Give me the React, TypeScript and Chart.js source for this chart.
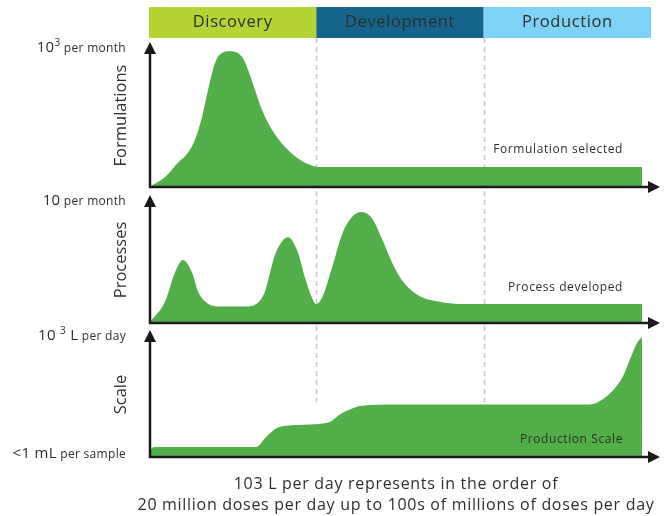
import React, { useEffect, useRef } from "react";
import { Chart, registerables } from "chart.js";

Chart.register(...registerables);

// Timeline in arbitrary units: Discovery 0–10, Development 10–20, Production 20–30
const phases = ["Discovery", "Development", "Production"];
const phaseBounds = [0, 10, 20, 30];

const panelTitles = ["Formulations", "Processes", "Scale"];
const panelNotes = ["Formulation selected", "Process developed", "Production Scale"];
const bottomCaption = [
  "103 L per day represents in the order of",
  "20 million doses per day up to 100s of millions of doses per day",
];

// values in % of each panel's axis height
const formulationsX = [0, 0.96, 1.73, 2.33, 2.75, 3.17, 3.53, 3.82, 4.12, 4.84, 5.56, 5.92, 6.33, 6.75, 7.35, 8.13, 8.9, 9.74, 10.1, 29.46];
const formulationsY = [0, 7, 17, 24, 33, 49, 68, 82, 91, 95, 91, 82, 68, 54, 40, 28, 20, 15, 14, 14];

const processesX = [0, 0.96, 1.55, 2.03, 2.57, 2.93, 3.35, 4.12, 5.74, 6.51, 6.93, 7.53, 8.31, 8.9, 9.32, 9.74, 9.98, 10.34, 10.94, 11.53, 12.13, 12.67, 13.33, 13.92, 14.52, 15.12, 16.08, 17.27, 18.88, 29.46];
const processesY = [0, 17, 40, 50, 40, 25, 17, 13, 13, 16, 25, 54, 68, 56, 36, 20, 15, 20, 44, 70, 84, 88, 83, 67, 48, 34, 22, 17, 15, 15];

const scaleX = [0, 0.3, 6.4, 7.0, 7.6, 8.2, 9.6, 10.8, 11.4, 12.0, 12.7, 14.8, 26.3, 27.3, 28.3, 28.8, 29.2, 29.46];
const scaleY = [4, 8, 8, 16, 23, 25, 26, 28, 34, 38, 41, 42, 42, 48, 64, 80, 92, 96];

// axis label runs: [text, style]
const topLabels: [string, string][][] = [
  [["10", "big"], ["3", "sup"], [" per month", "small"]],
  [["10", "big"], [" per month", "small"]],
  [["10 ", "big"], ["3", "sup"], [" L", "big"], [" per day", "small"]],
];
const bottomLabels: [string, string][][] = [[], [], [["<1 mL", "big"], [" per sample", "small"]]];

const FONT = "'Open Sans', sans-serif";
const GREEN = "#52ae48";
const BAND_COLORS = ["#b5d334", "#15648a", "#7dd3f5"];
const INK = "#2e2e2e";

const runStyle: Record<string, { size: number; dy: number }> = {
  big: { size: 15, dy: 0 },
  sup: { size: 10, dy: -6 },
  small: { size: 12, dy: 0 },
};

function setSpacing(ctx: any, px: number) {
  if ("letterSpacing" in ctx) ctx.letterSpacing = `${px}px`;
}

function drawRunsRight(ctx: CanvasRenderingContext2D, runs: [string, string][], right: number, baseline: number) {
  let total = 0;
  setSpacing(ctx, 0.3);
  const widths = runs.map(([t, s]) => {
    ctx.font = `${runStyle[s].size}px ${FONT}`;
    const w = ctx.measureText(t).width;
    total += w;
    return w;
  });
  let x = right - total;
  ctx.textAlign = "left";
  ctx.textBaseline = "alphabetic";
  runs.forEach(([t, s], i) => {
    ctx.font = `${runStyle[s].size}px ${FONT}`;
    ctx.fillText(t, x, baseline + runStyle[s].dy);
    x += widths[i];
  });
  setSpacing(ctx, 0);
}

const overlay = {
  id: "overlay",
  beforeDatasetsDraw(chart: any) {
    const ctx: CanvasRenderingContext2D = chart.ctx;
    const xs = chart.scales.x;
    const area = chart.chartArea;
    ctx.save();
    // phase band
    const bandTop = area.top - 33;
    const bandBottom = area.top - 2;
    phases.forEach((p, i) => {
      const x0 = xs.getPixelForValue(phaseBounds[i]);
      const x1 = xs.getPixelForValue(phaseBounds[i + 1]);
      ctx.fillStyle = BAND_COLORS[i];
      ctx.fillRect(x0, bandTop, x1 - x0, bandBottom - bandTop);
      ctx.fillStyle = INK;
      ctx.font = `16.5px ${FONT}`;
      setSpacing(ctx, 0.6);
      ctx.textAlign = "center";
      ctx.textBaseline = "middle";
      ctx.fillText(p, (x0 + x1) / 2, (bandTop + bandBottom) / 2);
      setSpacing(ctx, 0);
    });
    // dashed phase dividers
    const yEnd = chart.scales.y3.getPixelForValue(44);
    ctx.strokeStyle = "#c6c6c6";
    ctx.lineWidth = 1.5;
    ctx.setLineDash([5, 4]);
    [phaseBounds[1], phaseBounds[2]].forEach((b) => {
      const x = Math.round(xs.getPixelForValue(b)) + 0.5;
      ctx.beginPath();
      ctx.moveTo(x, bandBottom);
      ctx.lineTo(x, yEnd);
      ctx.stroke();
    });
    ctx.restore();
  },
  afterDatasetsDraw(chart: any) {
    const ctx: CanvasRenderingContext2D = chart.ctx;
    const xs = chart.scales.x;
    const yScales = [chart.scales.y1, chart.scales.y2, chart.scales.y3];
    const plateaus = [formulationsY[formulationsY.length - 1], processesY[processesY.length - 1], 0];
    ctx.save();
    yScales.forEach((s: any, i: number) => {
      const base = s.getPixelForValue(0);
      const tip = s.getPixelForValue(100) - 2;
      const x0 = xs.getPixelForValue(0) + 1;
      const xEnd = xs.right + 9;
      ctx.strokeStyle = "#1a1a1a";
      ctx.fillStyle = "#1a1a1a";
      ctx.lineWidth = 2.5;
      ctx.setLineDash([]);
      ctx.beginPath();
      ctx.moveTo(x0, tip + 10);
      ctx.lineTo(x0, base);
      ctx.lineTo(xEnd - 10, base);
      ctx.stroke();
      ctx.beginPath();
      ctx.moveTo(x0, tip);
      ctx.lineTo(x0 - 6, tip + 12);
      ctx.lineTo(x0 + 6, tip + 12);
      ctx.closePath();
      ctx.fill();
      ctx.beginPath();
      ctx.moveTo(xEnd, base);
      ctx.lineTo(xEnd - 12, base - 6);
      ctx.lineTo(xEnd - 12, base + 6);
      ctx.closePath();
      ctx.fill();

      // axis labels
      ctx.fillStyle = INK;
      drawRunsRight(ctx, topLabels[i], 126, tip + 10);
      if (bottomLabels[i].length) drawRunsRight(ctx, bottomLabels[i], 126, base + 1);

      // rotated title
      ctx.save();
      ctx.translate(121, (tip + base) / 2 + 1);
      ctx.rotate(-Math.PI / 2);
      ctx.font = `16.5px ${FONT}`;
      ctx.textAlign = "center";
      ctx.textBaseline = "middle";
      ctx.fillText(panelTitles[i], 0, 0);
      ctx.restore();

      // note
      ctx.font = `12px ${FONT}`;
      setSpacing(ctx, 0.6);
      ctx.textAlign = "right";
      ctx.textBaseline = "middle";
      const noteY = s.getPixelForValue(plateaus[i]) - 17;
      ctx.fillText(panelNotes[i], xs.getPixelForValue(28.33), noteY);
      setSpacing(ctx, 0);
    });

    // caption
    ctx.font = `16px ${FONT}`;
    setSpacing(ctx, 0.7);
    ctx.textAlign = "center";
    ctx.textBaseline = "middle";
    ctx.fillStyle = INK;
    const cx = 396;
    ctx.fillText(bottomCaption[0], cx, 484);
    ctx.fillText(bottomCaption[1], cx, 505);
    setSpacing(ctx, 0);
    ctx.restore();
  },
};

function toPoints(xs: number[], ys: number[]) {
  return xs.map((x, i) => ({ x, y: ys[i] }));
}

export default function App() {
  const ref = useRef<HTMLCanvasElement>(null);
  useEffect(() => {
    if (!ref.current) return;
    const common = {
      fill: "origin",
      backgroundColor: GREEN,
      borderWidth: 0,
      borderColor: GREEN,
      pointRadius: 0,
      cubicInterpolationMode: "monotone" as const,
    };
    const chart = new Chart(ref.current, {
      type: "line",
      data: {
        datasets: [
          { ...common, label: panelTitles[0], data: toPoints(formulationsX, formulationsY), yAxisID: "y1" },
          { ...common, label: panelTitles[1], data: toPoints(processesX, processesY), yAxisID: "y2" },
          { ...common, label: panelTitles[2], data: toPoints(scaleX, scaleY), yAxisID: "y3" },
        ],
      },
      options: {
        responsive: false,
        animation: false,
        layout: { padding: { left: 149, right: 14, top: 40, bottom: 59 } },
        plugins: { legend: { display: false }, tooltip: { enabled: false } },
        events: [],
        scales: {
          x: { type: "linear", min: 0, max: 30, display: false },
          y1: { type: "linear", position: "left", stack: "panels", stackWeight: 147, weight: 3, min: 0, max: 102.8, display: false },
          y2: { type: "linear", position: "left", stack: "panels", stackWeight: 136, weight: 2, min: 0, max: 107.9, display: false },
          y3: { type: "linear", position: "left", stack: "panels", stackWeight: 134, weight: 1, min: 0, max: 107.2, display: false },
        },
      } as any,
      plugins: [overlay],
    });
    return () => chart.destroy();
  }, []);
  return (
    <div style={{ position: "absolute", left: 0, top: 0, width: 665, height: 516, background: "#fff" }}>
      <canvas ref={ref} width={665} height={516} />
    </div>
  );
}
